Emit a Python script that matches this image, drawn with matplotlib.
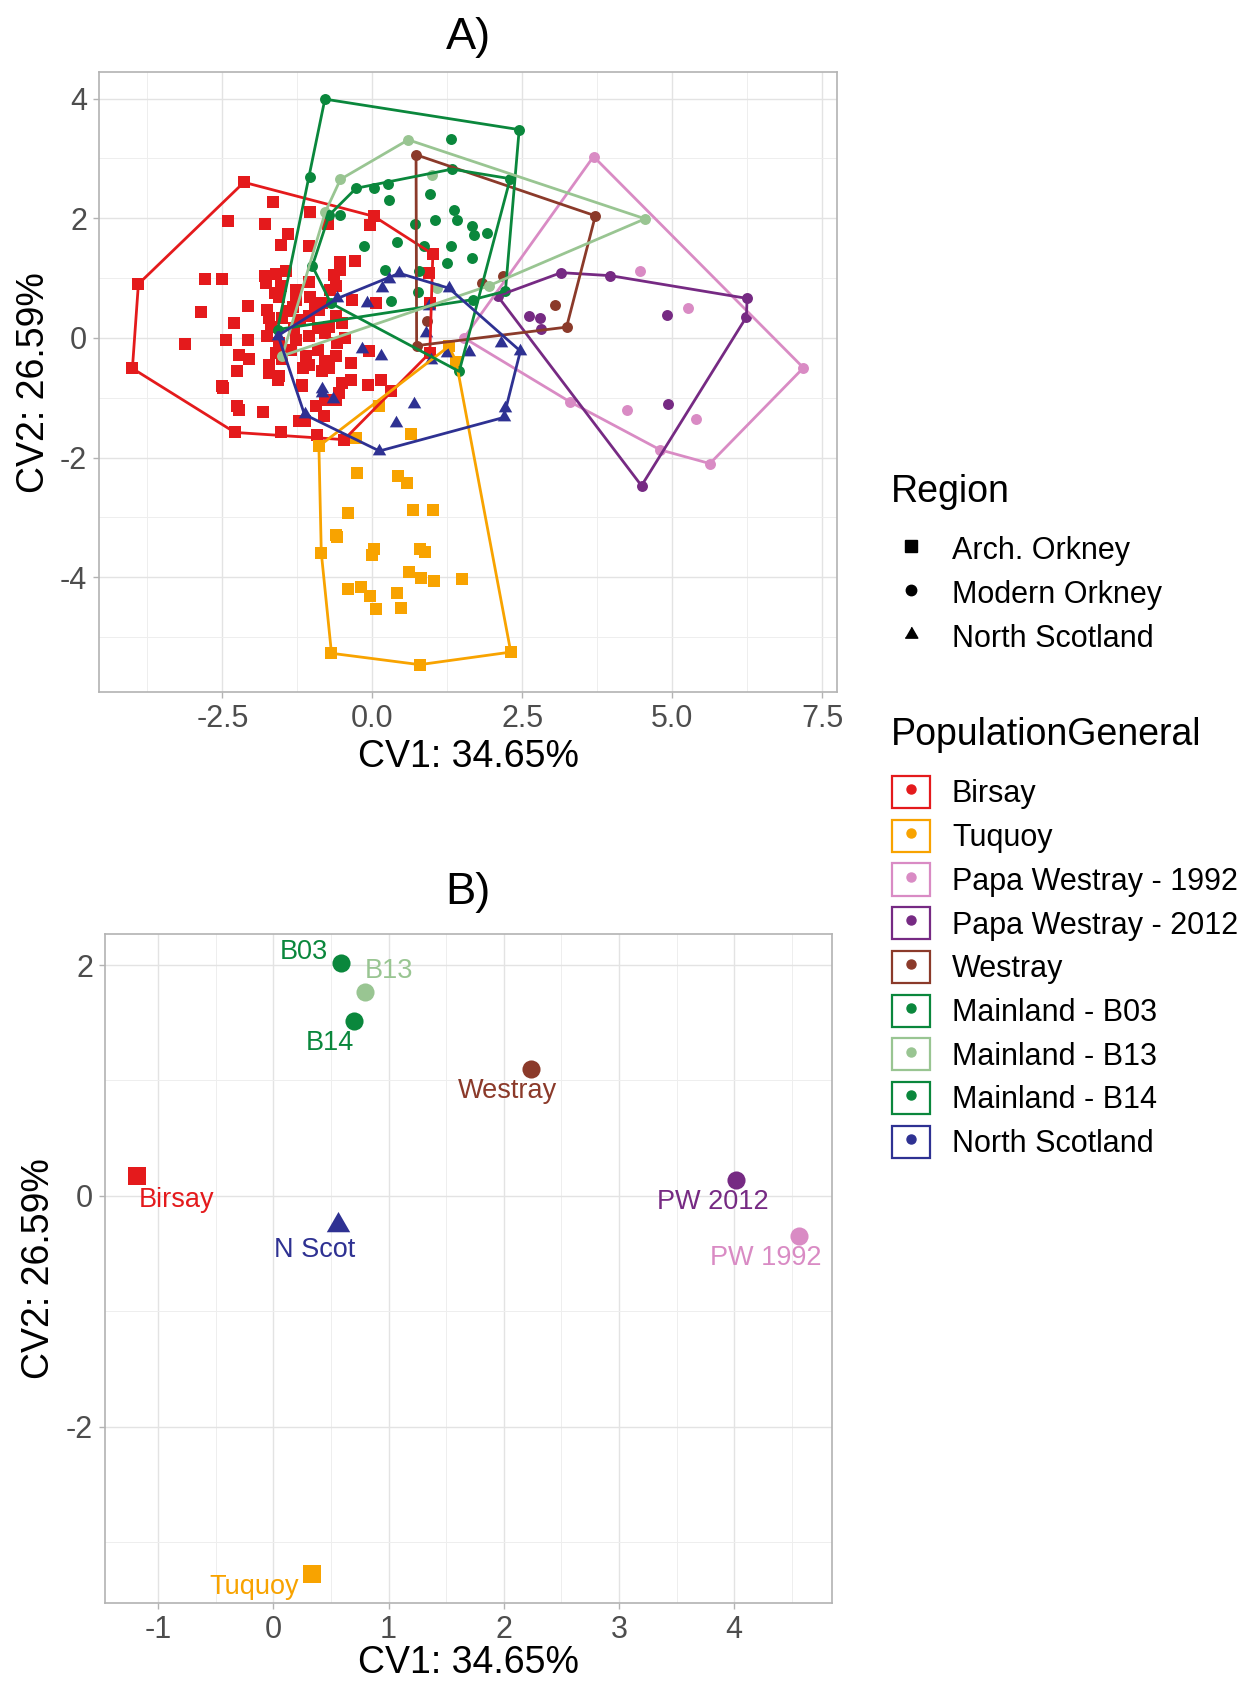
import numpy as np
import matplotlib
matplotlib.use("Agg")
import matplotlib.pyplot as plt
from matplotlib.lines import Line2D
from matplotlib.patches import Rectangle

plt.rcParams['font.family'] = ['Liberation Sans', 'DejaVu Sans']
plt.rcParams['axes.unicode_minus'] = False

# ---------------- data: panel A (individual CV scores) ----------------
birsay_x = [-2.14, 0.03, 1.01, 0.96, -0.47, -0.92, -1.53, -2.29, -4.00, -3.90,
            -1.65, -1.04, -2.40, -1.79, -1.40, -1.53, -1.05, -0.03, -0.74, -0.54,
            -0.29, -0.53, -2.79, -2.51, -1.79, -1.61, -1.44, -1.78, -1.53, -1.28,
            -1.05, -0.64, -0.61, -1.55, -1.28, -1.03, -0.83, -0.33, 0.06, -2.85,
            -2.08, -1.33, -1.75, -1.72, -1.50, -1.05, -0.89, -0.61, -2.30, -1.69,
            -1.30, -0.90, -0.72, -0.50, -3.12, -2.44, -2.08, -1.75, -1.55, -1.28,
            -1.05, -0.78, -0.58, -0.05, 0.97, 0.95, -2.23, -2.05, -1.72, -1.50,
            -1.11, -1.05, -0.78, -0.61, -0.36, -2.25, -1.72, -1.55, -0.83, -0.72,
            -2.50, -1.17, -0.50, -0.07, 0.14, -2.49, -2.25, -2.23, -1.83, -1.57,
            -1.17, -1.22, -1.12, -0.94, -0.80, -0.78, -0.61, -0.55, -0.36, 0.31,
            -1.62, -1.40, -1.20, -0.95, -0.70, -1.35, -1.15, -0.90, -1.60, -0.45]
birsay_y = [2.60, 2.03, 1.40, -0.25, -1.70, -1.63, -1.57, -1.58, -0.51, 0.90,
            2.27, 2.11, 1.96, 1.90, 1.73, 1.56, 1.54, 1.88, 1.90, 1.26,
            1.28, 1.14, 0.99, 0.99, 1.04, 1.07, 1.11, 0.91, 0.86, 0.80,
            0.94, 1.05, 0.86, 0.69, 0.64, 0.69, 0.58, 0.64, 0.58, 0.43,
            0.54, 0.51, 0.47, 0.33, 0.33, 0.36, 0.47, 0.36, 0.25, 0.19,
            0.16, 0.16, 0.19, 0.25, -0.11, -0.04, -0.04, 0.03, -0.09, -0.03,
            0.03, 0.08, -0.09, -0.22, 0.58, 1.08, -0.28, -0.36, -0.45, -0.36,
            -0.31, -0.45, -0.39, -0.31, -0.42, -0.56, -0.59, -0.64, -0.56, -0.50,
            -0.81, -0.78, -0.75, -0.78, -0.70, -0.83, -1.14, -1.21, -1.24, -0.70,
            -0.81, -1.39, -1.39, -1.14, -1.30, -1.03, -1.03, -0.92, -0.70, -0.89,
            0.75, 0.45, 0.30, 0.55, 0.80, -0.20, -0.50, -0.20, -0.25, 0.00]

tuquoy_x = [1.28, -0.89, -0.85, -0.68, 0.79, 2.31, 1.40, 0.11, -0.27, 0.64,
            -0.25, 0.43, 0.58, -0.40, 0.68, 1.02, -0.61, -0.58, 0.03, -0.01,
            0.79, 0.88, 0.61, 0.81, 1.03, 1.50, -0.40, -0.19, -0.04, 0.41,
            0.06, 0.48]
tuquoy_y = [-0.14, -1.81, -3.59, -5.27, -5.46, -5.25, -0.40, -1.13, -1.67, -1.61,
            -2.25, -2.31, -2.42, -2.93, -2.88, -2.88, -3.30, -3.32, -3.52, -3.62,
            -3.52, -3.57, -3.91, -4.02, -4.06, -4.03, -4.20, -4.17, -4.32, -4.27,
            -4.53, -4.52]

pw1992_x = [3.69, 7.19, 5.63, 4.80, 3.30, 1.53, 4.47, 5.26, 4.24, 5.40]
pw1992_y = [3.03, -0.50, -2.10, -1.87, -1.07, 0.00, 1.11, 0.50, -1.20, -1.35]

pw2012_x = [3.15, 3.97, 6.25, 6.24, 4.49, 2.09, 2.61, 2.80, 2.82, 4.91, 4.94]
pw2012_y = [1.09, 1.04, 0.66, 0.35, -2.47, 0.70, 0.36, 0.34, 0.15, 0.39, -1.11]

westray_x = [0.73, 3.72, 3.24, 0.74, 0.91, 3.05, 1.83, 2.18]
westray_y = [3.06, 2.04, 0.18, -0.13, 0.29, 0.55, 0.91, 1.04]

b03_x = [-0.79, 2.45, 2.22, 1.68, -1.58, -1.03, 1.32, 0.97, 0.28, 0.72,
         1.05, 1.36, 1.42, 0.42, 0.86, 1.31, 0.78, 1.66, 1.69, 1.91, 1.66]
b03_y = [3.99, 3.48, 0.78, 0.64, 0.14, 2.69, 3.32, 2.41, 2.30, 1.90,
         1.97, 2.13, 1.97, 1.60, 1.53, 1.53, 1.11, 1.87, 1.72, 1.75, 1.33]

b13_x = [0.60, 4.55, 1.94, -1.50, -0.78, -0.53, 1.00, 1.08]
b13_y = [3.31, 1.99, 0.87, -0.30, 2.11, 2.65, 2.73, 0.83]

b14_x = [-0.72, 0.03, 0.26, 1.33, 2.30, 1.45, -0.69, -1.00, -0.27, -0.54,
         -0.14, 0.22, 1.25, 0.31, 0.77]
b14_y = [2.05, 2.51, 2.57, 2.82, 2.66, -0.56, 0.58, 1.20, 2.50, 2.05,
         1.53, 1.14, 1.25, 0.61, 0.76]

nscot_x = [-1.57, -0.58, 0.45, 1.28, 2.47, 2.22, 2.19, 0.12, -1.13, 0.28,
           0.17, -0.08, 0.95, 0.89, -0.17, 0.14, 0.98, 1.25, 1.61, 2.14,
           -0.83, -0.83, -0.65, 0.70, 0.40]
nscot_y = [0.04, 0.66, 1.08, 0.83, -0.22, -1.17, -1.33, -1.89, -1.28, 0.98,
           0.83, 0.59, 0.53, 0.08, -0.19, -0.31, -0.37, -0.26, -0.24, -0.09,
           -0.86, -0.92, -1.02, -1.10, -1.43]

# ---------------- data: panel B (group centroids) ----------------
cent_x = [-1.18, 0.34, 4.56, 4.02, 2.24, 0.59, 0.80, 0.70, 0.56]
cent_y = [0.17, -3.28, -0.35, 0.14, 1.10, 2.02, 1.77, 1.52, -0.25]
cent_labels = ['Birsay', 'Tuquoy', 'PW 1992', 'PW 2012', 'Westray',
               'B03', 'B13', 'B14', 'N Scot']
label_offsets = [(28, -17), (-42, -9), (-24, -16), (-17, -16), (-17, -16),
                 (-27, 8), (17, 15), (-17, -16), (-17, -18)]

populations = ['Birsay', 'Tuquoy', 'Papa Westray - 1992', 'Papa Westray - 2012',
               'Westray', 'Mainland - B03', 'Mainland - B13', 'Mainland - B14',
               'North Scotland']
colors = ['#E41A1C', '#F8A300', '#D98BC4', '#762A83', '#8B3A2A',
          '#0A873C', '#99C592', '#0A873C', '#2E3192']
regions = ['Arch. Orkney', 'Arch. Orkney', 'Modern Orkney', 'Modern Orkney',
           'Modern Orkney', 'Modern Orkney', 'Modern Orkney', 'Modern Orkney',
           'North Scotland']

groups_x = [birsay_x, tuquoy_x, pw1992_x, pw2012_x, westray_x, b03_x, b13_x, b14_x, nscot_x]
groups_y = [birsay_y, tuquoy_y, pw1992_y, pw2012_y, westray_y, b03_y, b13_y, b14_y, nscot_y]

TRI = [(-1, -0.577), (1, -0.577), (0, 1.155)]
shape = {'Arch. Orkney': 's', 'Modern Orkney': 'o', 'North Scotland': TRI}
size_a = {'Arch. Orkney': 74, 'Modern Orkney': 62, 'North Scotland': 125}
size_b = {'Arch. Orkney': 175, 'Modern Orkney': 170, 'North Scotland': 380}


def convex_hull(xs, ys):
    pts = sorted(set(zip(xs, ys)))

    def cross(o, a, b):
        return (a[0] - o[0]) * (b[1] - o[1]) - (a[1] - o[1]) * (b[0] - o[0])

    lower, upper = [], []
    for p in pts:
        while len(lower) >= 2 and cross(lower[-2], lower[-1], p) <= 0:
            lower.pop()
        lower.append(p)
    for p in reversed(pts):
        while len(upper) >= 2 and cross(upper[-2], upper[-1], p) <= 0:
            upper.pop()
        upper.append(p)
    h = lower[:-1] + upper[:-1]
    h.append(h[0])
    return np.array(h)


def style_axes(ax):
    ax.set_facecolor('white')
    ax.grid(which='major', color='#E3E3E3', lw=1.0, zorder=0)
    ax.grid(which='minor', color='#EEEEEE', lw=0.7, zorder=0)
    ax.set_axisbelow(True)
    for s in ax.spines.values():
        s.set_color('#B3B3B3')
        s.set_linewidth(1.2)
    ax.tick_params(which='major', length=4.5, width=1.0, color='#B3B3B3',
                   labelsize=22, labelcolor='#4D4D4D', pad=4)
    ax.tick_params(which='minor', length=0)


W, H = 1250, 1682
fig = plt.figure(figsize=(W / 100, H / 100), dpi=100)

# ---------------- panel A ----------------
axA = fig.add_axes([99 / W, 1 - 692 / H, 738 / W, 620 / H])
style_axes(axA)
for xs, ys, c, r in zip(groups_x, groups_y, colors, regions):
    axA.scatter(xs, ys, marker=shape[r], s=size_a[r], color=c, lw=0, zorder=3)
for xs, ys, c in zip(groups_x, groups_y, colors):
    h = convex_hull(xs, ys)
    axA.plot(h[:, 0], h[:, 1], color=c, lw=2.0, zorder=4, solid_joinstyle='round')
axA.set_xlim(-4.557, 7.75)
axA.set_ylim(-5.917, 4.443)
axA.set_xticks([-2.5, 0, 2.5, 5, 7.5])
axA.set_xticks([-3.75, -1.25, 1.25, 3.75, 6.25], minor=True)
axA.set_yticks([-4, -2, 0, 2, 4])
axA.set_yticks([-5, -3, -1, 1, 3], minor=True)
axA.set_xlabel('CV1: 34.65%', fontsize=27)
axA.set_ylabel('CV2: 26.59%', fontsize=27)
axA.xaxis.set_label_coords(468 / W, 1 - 757 / H, transform=fig.transFigure)
axA.yaxis.set_label_coords(34 / W, 1 - 383 / H, transform=fig.transFigure)
axA.xaxis.label.set_va('center')
axA.yaxis.label.set_va('center')
fig.text(468 / W, 1 - 38 / H, 'A)', ha='center', va='center', fontsize=32.6)

# ---------------- panel B ----------------
axB = fig.add_axes([105 / W, 1 - 1603 / H, 726.6 / W, 669 / H])
style_axes(axB)
for x, y, c, r, lab, off in zip(cent_x, cent_y, colors, regions, cent_labels, label_offsets):
    axB.scatter([x], [y], marker=shape[r], s=size_b[r], color=c, lw=0, zorder=3)
    axB.annotate(lab, (x, y), xytext=off, textcoords='offset points',
                 ha='center', va='center', fontsize=19.5, color=c, zorder=4)
axB.set_xlim(-1.461, 4.846)
axB.set_ylim(-3.53, 2.27)
axB.set_xticks([-1, 0, 1, 2, 3, 4])
axB.set_xticks([-0.5, 0.5, 1.5, 2.5, 3.5, 4.5], minor=True)
axB.set_yticks([-2, 0, 2])
axB.set_yticks([-3, -1, 1], minor=True)
axB.set_xlabel('CV1: 34.65%', fontsize=27)
axB.set_ylabel('CV2: 26.59%', fontsize=27)
axB.xaxis.set_label_coords(468 / W, 1 - 1663 / H, transform=fig.transFigure)
axB.yaxis.set_label_coords(39 / W, 1 - 1269 / H, transform=fig.transFigure)
axB.xaxis.label.set_va('center')
axB.yaxis.label.set_va('center')
fig.text(468 / W, 1 - 893 / H, 'B)', ha='center', va='center', fontsize=32.6)

# ---------------- legends ----------------
fig.text(891 / W, 1 - 492 / H, 'Region', ha='left', va='center', fontsize=27)
region_names = ['Arch. Orkney', 'Modern Orkney', 'North Scotland']
region_handles = [Line2D([], [], marker='s', color='black', ls='none', markersize=8),
                  Line2D([], [], marker='o', color='black', ls='none', markersize=7.5),
                  Line2D([], [], marker=TRI, color='black', ls='none', markersize=10.5)]
leg_kw = dict(loc='upper left', frameon=False, fontsize=22, handlelength=1.24,
              handleheight=1.24, handletextpad=0.72, labelspacing=0.34,
              borderpad=0, borderaxespad=0)
leg1 = fig.legend(region_handles, region_names, bbox_to_anchor=(892 / W, 1 - 533 / H), **leg_kw)

fig.text(891 / W, 1 - 735 / H, 'PopulationGeneral', ha='left', va='center', fontsize=27)
pop_handles = [(Rectangle((0, 0), 1, 1, facecolor='white', edgecolor=c, lw=1.6),
                Line2D([], [], marker='o', color=c, ls='none', markersize=6.5))
               for c in colors]
leg2 = fig.legend(pop_handles, populations, bbox_to_anchor=(892 / W, 1 - 776 / H), **leg_kw)

fig.savefig('out.png', dpi=100, facecolor='white')
